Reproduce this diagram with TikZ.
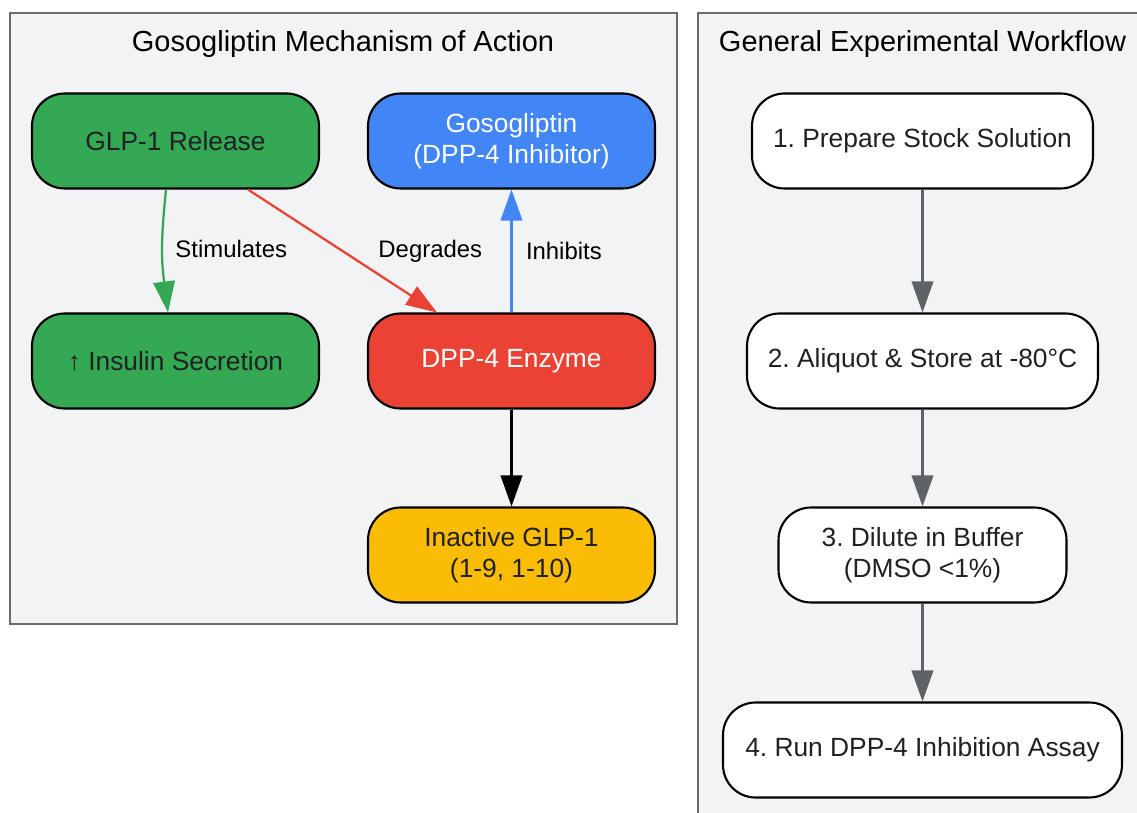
\documentclass[tikz,border=0pt]{standalone}
\usepackage{fontspec}
\setmainfont{Liberation Sans}
\usetikzlibrary{arrows.meta,positioning}
\definecolor{clusterbg}{HTML}{F1F3F5}
\definecolor{clusterline}{HTML}{6B6B6B}
\definecolor{ggreen}{HTML}{34A853}
\definecolor{gblue}{HTML}{4285F4}
\definecolor{gred}{HTML}{EA4335}
\definecolor{gyellow}{HTML}{FBBC05}
\definecolor{ggray}{HTML}{5F6368}
\definecolor{txtdark}{HTML}{202124}
\frenchspacing
\begin{document}
\begin{tikzpicture}[x=0.02cm, y=-0.02cm,
    cluster/.style={fill=clusterbg, draw=clusterline, line width=1.1pt},
    ctitle/.style={font=\fontsize{16.5}{19}\selectfont, text=black},
    box/.style={draw=black, line width=1.2pt, rounded corners=0.65cm, minimum height=1.9cm, minimum width=5.74cm, align=center, font=\fontsize{15}{17.6}\selectfont, text=txtdark},
    greenbox/.style={box, fill=ggreen},
    bluebox/.style={box, fill=gblue, text=white},
    redbox/.style={box, fill=gred, text=white},
    yellowbox/.style={box, fill=gyellow},
    stepbox/.style={box, fill=white},
    lbl/.style={font=\fontsize{13.6}{16}\selectfont, text=black},
    arr/.style={line width=1.3pt, -{Triangle[length=0.62cm, width=0.43cm]}}]
      \useasboundingbox (0,0) rectangle (1137,813);
      \clip (0,0) rectangle (1137,813);

      % clusters
      \draw[cluster] (10,13) rectangle (677,624);
      \draw[cluster] (698,13) rectangle (1160,840);
      \node[ctitle] (tmech) at (343,44) {Gosogliptin Mechanism of Action};
      \node[ctitle] (tflow) at (922.5,44) {General Experimental Workflow};

      % mechanism
      \node[greenbox]  (glp)   at (175.5,141) {GLP-1 Release};
      \node[bluebox]   (gos)   at (511.5,141) {Gosogliptin\\(DPP-4 Inhibitor)};
      \node[greenbox]  (ins)   at (175.5,361) {↑ Insulin Secretion};
      \node[redbox]    (dpp)   at (511.5,361) {DPP-4 Enzyme};
      \node[yellowbox] (inact) at (511.5,555) {Inactive GLP-1\\(1-9, 1-10)};

      \draw[arr, ggreen] ([xshift=-0.19cm]glp.south) .. controls +(-5,50) and +(-7,-55) .. ([xshift=-0.15cm]ins.north)
          node [lbl, pos=0.5, right=0.12cm] (lstim) {Stimulates};
      \draw[arr, gred] ([xshift=1.45cm]glp.south) -- ([xshift=-1.49cm]dpp.north)
          node [lbl, midway, right=0.58cm] (ldeg) {Degrades};
      \draw[arr, gblue] (dpp) -- (gos)
          node [lbl, midway, right=0.15cm] (linh) {Inhibits};
      \draw[arr, black] (dpp) -- (inact);

      % workflow
      \node[stepbox, minimum width=6.82cm] (s1) at (922.5,141) {1. Prepare Stock Solution};
      \node[stepbox, minimum width=7.02cm] (s2) at (922.5,361) {2. Aliquot \& Store at -80°C};
      \node[stepbox, minimum width=5.76cm] (s3) at (922.5,555) {3. Dilute in Buffer\\(DMSO <1\%)};
      \node[stepbox, minimum width=7.98cm] (s4) at (922.5,750) {4. Run DPP-4 Inhibition Assay};

      \draw[arr, ggray] (s1) -- (s2);
      \draw[arr, ggray] (s2) -- (s3);
      \draw[arr, ggray] (s3) -- (s4);
\end{tikzpicture}
\end{document}
